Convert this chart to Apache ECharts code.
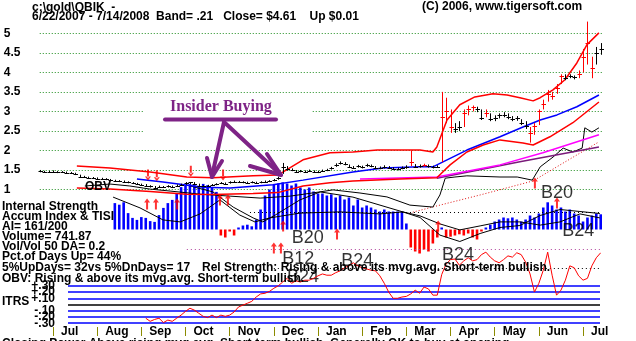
<!DOCTYPE html>
<html>
<head>
<meta charset="utf-8">
<script src="https://cdn.jsdelivr.net/npm/echarts@6/dist/echarts.min.js"></script>
<style>
  html, body { margin: 0; padding: 0; background: #fff; }
  #chart { width: 636px; height: 341px; }
</style>
</head>
<body>
<div id="chart"></div>
<script>
// ---- QBIK daily data, 6/22/2007 - 7/14/2008 (x measured in months from Jul 1 2007) ----
const MONTH_LABELS = ['Jul', 'Aug', 'Sep', 'Oct', 'Nov', 'Dec', 'Jan', 'Feb', 'Mar', 'Apr', 'May', 'Jun', 'Jul'];
const PRICE_TICKS = [1, 1.5, 2, 2.5, 3, 3.5, 4, 4.5, 5];
const ITRS_TICKS = [-0.3, -0.2, -0.1, 0, 0.1, 0.2, 0.3];
const ITRS_LABELS = ['-.30', '-.20', '-.10', '', '+.10', '+.20', '+.30'];

const FIRST_BAR = -0.3;   // first sample, in months
const BAR_STEP = 0.1;     // sample spacing, in months

const closes = [1.47,1.46,1.45,1.46,1.44,1.45,1.43,1.42,1.40,1.33,
  1.32,1.30,1.29,1.28,1.27,1.26,1.24,1.22,1.21,1.20,
  1.18,1.16,1.14,1.12,1.10,1.08,1.05,1.07,1.06,1.08,
  1.07,1.10,1.12,1.17,1.18,1.15,1.10,1.08,1.09,1.12,
  1.13,1.17,1.15,1.18,1.20,1.19,1.18,1.17,1.18,1.17,
  1.18,1.20,1.21,1.24,1.29,1.58,1.52,1.50,1.45,1.47,
  1.45,1.48,1.46,1.44,1.48,1.50,1.55,1.63,1.68,1.65,
  1.58,1.56,1.60,1.57,1.62,1.60,1.56,1.55,1.58,1.56,
  1.53,1.52,1.55,1.57,1.70,1.58,1.60,1.62,1.60,1.57,
  1.58,2.85,3.00,2.60,2.55,2.60,2.95,3.05,3.10,3.05,
  2.82,2.95,2.80,2.82,2.90,2.92,2.85,2.80,2.82,2.70,
  2.62,2.45,2.62,3.00,3.20,3.45,3.40,3.60,3.90,3.85,
  3.90,3.87,3.95,4.40,4.75,4.10,4.50,4.61];
const highs = [1.50,1.48,1.48,1.49,1.47,1.47,1.46,1.45,1.43,1.38,
  1.35,1.33,1.32,1.31,1.30,1.29,1.27,1.25,1.24,1.23,
  1.21,1.19,1.17,1.15,1.14,1.11,1.09,1.10,1.09,1.11,
  1.10,1.13,1.15,1.19,1.19,1.19,1.15,1.11,1.12,1.14,
  1.16,1.19,1.18,1.21,1.23,1.22,1.21,1.20,1.21,1.20,
  1.21,1.23,1.24,1.27,1.33,1.68,1.60,1.54,1.50,1.50,
  1.49,1.51,1.49,1.48,1.51,1.53,1.58,1.67,1.72,1.70,
  1.64,1.60,1.63,1.61,1.66,1.64,1.60,1.59,1.62,1.60,
  1.57,1.56,1.59,1.62,2.00,1.65,1.64,1.66,1.64,1.61,
  1.62,3.50,3.35,3.05,2.70,2.75,3.05,3.15,3.15,3.12,
  3.05,3.05,2.95,2.90,2.95,2.98,2.95,2.88,2.88,2.80,
  2.75,2.60,2.70,3.05,3.30,3.55,3.50,3.70,3.95,3.95,
  3.95,3.92,4.05,4.60,5.30,4.40,4.65,4.75];
const lows = [1.44,1.43,1.43,1.44,1.42,1.43,1.41,1.40,1.37,1.31,
  1.30,1.28,1.27,1.26,1.25,1.24,1.22,1.20,1.19,1.18,
  1.16,1.14,1.12,1.10,1.08,1.05,1.03,1.04,1.04,1.05,
  1.05,1.07,1.09,1.12,1.14,1.13,1.08,1.06,1.07,1.09,
  1.11,1.14,1.13,1.15,1.17,1.17,1.16,1.15,1.16,1.15,
  1.16,1.18,1.19,1.21,1.25,1.40,1.48,1.47,1.43,1.44,
  1.43,1.45,1.44,1.42,1.45,1.47,1.51,1.58,1.64,1.62,
  1.55,1.53,1.56,1.54,1.58,1.57,1.53,1.52,1.54,1.53,
  1.50,1.49,1.52,1.53,1.60,1.55,1.56,1.58,1.56,1.54,
  1.55,1.70,2.70,2.45,2.45,2.50,2.60,2.90,3.00,2.98,
  2.78,2.85,2.75,2.75,2.82,2.85,2.80,2.75,2.76,2.65,
  2.55,2.20,2.40,2.65,3.05,3.25,3.30,3.45,3.70,3.80,
  3.85,3.82,3.85,4.00,4.20,3.85,4.20,4.45];
// bars printed in red (strong up days)
const redBars = [84,87,91,92,93,96,97,98,101,111,112,113,114,115,116,117,118,122,123,124,125];

// Accumulation Index histogram, same sampling as the bars
const accumIndex = [null,null,null,null,null,null,null,null,null,null,
  null,null,null,null,null,null,null,0.66,0.62,0.68,
  0.41,0.29,0.24,0.31,0.29,0.21,0.19,0.36,0.54,0.66,
  0.74,0.91,1.06,1.11,1.14,1.11,1.09,1.14,1.11,1.06,
  0.94,-0.15,-0.20,-0.05,-0.15,0.05,0.10,0.12,0.08,0.25,
  0.50,0.85,1.00,1.12,1.15,1.18,1.15,1.10,1.15,1.05,
  1.00,1.05,0.95,0.90,0.90,0.85,0.88,0.80,0.85,0.75,
  0.80,0.60,0.75,0.55,0.60,0.55,0.50,0.45,0.50,0.45,
  0.45,0.45,0.45,0.15,-0.45,-0.55,-0.60,-0.50,-0.55,-0.35,
  -0.20,0.05,-0.20,-0.18,-0.15,-0.12,-0.15,-0.10,-0.20,-0.25,
  -0.05,0.05,0.12,0.20,0.25,0.30,0.28,0.30,0.25,0.20,
  0.25,0.35,0.30,0.40,0.55,0.68,0.60,0.50,0.55,0.45,
  0.50,0.40,0.35,0.20,0.30,0.35,0.40,0.38];

// Intermediate-term relative strength
const itrs = [null,null,null,null,null,null,null,null,null,null,
  null,null,null,null,null,null,null,null,null,null,
  null,null,null,null,-0.22,-0.27,-0.24,-0.22,-0.29,-0.25,
  -0.27,-0.22,-0.17,-0.11,-0.06,-0.09,-0.14,-0.19,-0.21,-0.17,
  -0.21,-0.17,-0.19,-0.17,-0.12,-0.04,-0.01,0.02,0.05,0.12,
  0.17,0.18,0.21,0.26,0.30,0.36,0.42,0.34,0.38,0.36,
  0.39,0.39,0.42,0.46,0.49,0.47,0.47,0.51,0.54,0.59,
  0.62,0.67,0.62,0.59,0.57,0.55,0.54,0.46,0.34,0.20,
  0.10,0.10,0.12,0.13,0.17,0.23,0.18,0.28,0.25,0.15,
  0.15,0.48,0.65,0.72,0.73,0.63,0.70,0.75,0.70,0.72,
  0.80,0.84,0.76,0.70,0.67,0.72,0.78,0.76,0.83,0.80,
  0.68,0.49,0.20,0.34,0.55,0.84,0.47,0.15,0.23,0.39,
  0.62,0.59,0.46,0.39,0.42,0.62,0.75,0.83];

// Overlay lines on the price panel: [month, value]
const upperBand = [[0.54,1.60],[1.29,1.55],[2.20,1.45],[3.03,1.32],[3.62,1.30],[4.53,1.35],[5.09,1.37],[5.66,1.76],[6.27,1.94],[6.79,1.96],[7.34,2.01],[8.31,2.01],[8.60,1.96],[8.69,2.09],[8.92,2.78],[9.21,3.17],[9.55,3.37],[9.96,3.45],[10.28,3.42],[10.57,3.35],[10.87,3.27],[11.03,3.35],[11.32,3.55],[11.59,3.81],[11.86,4.24],[12.09,4.71],[12.36,5.01]];
const lowerBand = [[0.54,1.04],[1.29,1.01],[2.20,0.95],[3.03,0.88],[3.62,0.87],[4.53,0.90],[5.09,0.92],[5.66,1.09],[6.27,1.17],[6.79,1.22],[7.86,1.27],[8.69,1.30],[8.99,1.63],[9.37,1.96],[9.74,2.14],[10.12,2.27],[10.64,2.19],[10.87,2.14],[11.25,2.35],[11.77,2.71],[12.36,3.24]];
const ma50 = [[1.90,1.27],[2.49,1.19],[3.40,1.06],[4.01,1.04],[4.98,1.12],[5.66,1.24],[6.79,1.45],[7.47,1.55],[8.31,1.58],[8.60,1.58],[9.37,2.01],[10.12,2.35],[10.64,2.60],[11.03,2.78],[11.41,2.91],[11.86,3.12],[12.36,3.42]];
const ma200 = [[6.95,1.27],[8.69,1.32],[10.12,1.63],[11.09,1.94],[12.36,2.40]];
const trendLine = [[8.69,1.29],[10.57,1.71],[12.36,2.09]];
const obvAvg = [[8.08,0.40],[8.76,0.60],[9.67,0.86],[10.87,1.22],[11.48,1.63],[12.36,2.22]];
const obv = [[0.72,1.09],[1.29,1.14],[1.74,1.09],[2.20,1.01],[2.65,0.96],[3.33,0.88],[4.01,0.83],[4.69,0.78],[5.37,0.83],[6.05,0.94],[6.34,0.99],[6.95,0.91],[7.56,0.81],[8.08,0.60],[8.60,0.55],[8.76,0.86],[8.88,1.29],[9.10,1.32],[9.37,1.35],[10.12,1.32],[10.51,1.32],[10.85,1.24],[11.03,1.58],[11.32,1.83],[11.55,2.06],[11.77,1.96],[11.98,2.06],[12.04,2.58],[12.20,2.47],[12.36,2.58]];

// Lines on the accumulation panel
const aiAverage = [[1.36,0.81],[1.97,0.54],[2.49,0.24],[2.88,0.19],[3.33,0.39],[3.78,0.74],[4.23,0.36],[4.57,0.19],[4.91,0.29],[5.59,0.41],[6.50,0.44],[7.40,0.39],[7.92,0.44],[8.31,0.34],[8.76,0.14],[9.21,-0.01],[9.67,0.09],[10.12,0.19],[10.57,0.19],[11.03,0.11],[11.48,0.19],[11.93,0.39],[12.38,0.29]];
const tisi = [[3.03,1.11],[3.62,0.94],[4.08,0.56],[4.53,0.29],[4.75,0.19],[5.03,0.36],[5.59,0.74],[6.05,0.94],[6.79,0.81],[7.92,0.44],[8.31,0.30],[8.76,-0.14],[9.21,-0.30],[9.67,-0.10],[10.12,0.05],[10.57,0.10],[11.03,0.35],[11.48,0.50],[11.93,0.45],[12.38,0.40]];

// Signals
const buyArrows = [[2.13,0.64],[2.33,0.64],[2.81,0.64],[3.78,0.74],[3.96,0.74],[5.21,0.09],[5.00,-0.46],[5.16,-0.46],[6.43,-0.11],[8.72,0.09],[11.41,0.66],[10.91,1.16]];
const sellArrows = [[2.15,1.37],[2.35,1.35],[3.12,1.47],[3.85,1.37]];
const signalNames = ['B20', 'B12', 'B24', 'B24', 'B24', 'B20', 'B24'];
const signalPos = [[5.77,-0.22],[5.55,-0.74],[5.66,-1.19],[6.89,-0.80],[9.17,-0.64],[11.41,0.91],[11.89,-0.04]];

// ---------------------------------------------------------------
const FONT = '"Liberation Sans", Arial, Helvetica, sans-serif';
const PLOT_LEFT = 39.75, PLOT_WIDTH = 562.28;
const X_MIN = -0.3, X_MAX = 12.43;
const ITRS_X_MIN = 0.3396, ITRS_X_MAX = 12.384;

const barDates = closes.map((_, i) => +(FIRST_BAR + i * BAR_STEP).toFixed(2));
const redSet = new Set(redBars);
const barData = closes.map((c, i) => [barDates[i], highs[i], lows[i], c, redSet.has(i) ? 1 : 0]);
const aiData = accumIndex.map((v, i) => v == null ? null : [barDates[i], v]).filter(Boolean);
const itrsData = itrs.map((v, i) => v == null ? null : [barDates[i], v]).filter(Boolean);

const chart = echarts.init(document.getElementById('chart'), null, { renderer: 'canvas', width: 636, height: 341 });

function hiddenX(gridIndex, min, max) {
  return { type: 'value', gridIndex, min, max, show: false };
}

const lineSeries = (data, color, width, type, extra) => Object.assign({
  type: 'line', xAxisIndex: 0, yAxisIndex: 0, data, symbol: 'none', clip: false,
  silent: true, animation: false,
  lineStyle: { color, width, type: type || 'solid' }, z: 3
}, extra || {});

const arrowUp = 'path://M2,3 L4,3 L4,11 L2,11 Z M0,4 L3,0 L6,4 Z';
const arrowDown = 'path://M2,0 L4,0 L4,8 L2,8 Z M0,7 L3,11 L6,7 Z';

const leftTexts = [
  ['Internal Strength', 200.5],
  ['Accum Index & TISI', 210.5],
  ['AI= 161/200', 220.5],
  ['Volume= 741.87', 230.5],
  ['Vol/Vol 50 DA= 0.2', 240.5],
  ['Pct.of Days Up= 44%', 251],
  ['5%UpDays= 32vs 5%DnDays= 17', 262],
  ['OBV: Rising & above its mvg.avg. Short-term bullish.', 272.5],
  ['ITRS', 296]
];

const purple = '#7e2386';

const graphics = [
  { type: 'text', x: 32, y: 1.5, style: { text: 'c:\\gold\\QBIK  -', font: 'bold 12px ' + FONT, fill: '#000', verticalAlign: 'top' } },
  { type: 'text', x: 32, y: 10.5, style: { text: '6/22/2007 - 7/14/2008  Band= .21   Close= $4.61    Up $0.01', font: 'bold 12px ' + FONT, fill: '#000', verticalAlign: 'top' } },
  { type: 'text', x: 422, y: 1, style: { text: '(C) 2006, www.tigersoft.com', font: 'bold 12px ' + FONT, fill: '#000', verticalAlign: 'top' } },
  { type: 'text', x: 85, y: 181, z: 20, style: { text: 'OBV', font: 'bold 12px ' + FONT, fill: '#000', verticalAlign: 'top' } },
  { type: 'text', x: 202, y: 262, z: 20, style: { text: 'Rel Strength: Rising & above its mvg.avg. Short-term bullish.', font: 'bold 12px ' + FONT, fill: '#000', verticalAlign: 'top' } },
  { type: 'text', x: 2, y: 337.5, z: 20, style: { text: 'Closing Power Above rising mvg.avg. Short-term bullish. Generally OK to buy at opening.', font: 'bold 12px ' + FONT, fill: '#000', verticalAlign: 'top' } },
  // clear box behind the annotation
  { type: 'rect', z: 40, shape: { x: 143, y: 96, width: 169, height: 46 }, style: { fill: '#fff' } },
  // "Insider Buying" annotation
  { type: 'text', x: 170, y: 99, z: 60, style: { text: 'Insider Buying', font: 'bold 16px "Liberation Serif", "Times New Roman", serif', fill: purple, verticalAlign: 'top' } },
  { type: 'line', z: 60, shape: { x1: 165, y1: 119.5, x2: 276, y2: 119.5 }, style: { stroke: purple, lineWidth: 4, lineCap: 'round' } },
  { type: 'line', z: 60, shape: { x1: 224, y1: 122, x2: 212, y2: 176 }, style: { stroke: purple, lineWidth: 4, lineCap: 'round' } },
  { type: 'line', z: 60, shape: { x1: 207, y1: 158, x2: 212, y2: 177 }, style: { stroke: purple, lineWidth: 4, lineCap: 'round' } },
  { type: 'line', z: 60, shape: { x1: 222, y1: 161, x2: 212, y2: 177 }, style: { stroke: purple, lineWidth: 4, lineCap: 'round' } },
  { type: 'line', z: 60, shape: { x1: 224, y1: 122, x2: 280, y2: 174 }, style: { stroke: purple, lineWidth: 4, lineCap: 'round' } },
  { type: 'line', z: 60, shape: { x1: 250, y1: 166, x2: 281, y2: 175 }, style: { stroke: purple, lineWidth: 4, lineCap: 'round' } },
  { type: 'line', z: 60, shape: { x1: 267, y1: 154, x2: 281, y2: 175 }, style: { stroke: purple, lineWidth: 4, lineCap: 'round' } }
].concat(leftTexts.map(([t, y]) => ({
  type: 'text', x: 2, y, z: 20, style: { text: t, font: 'bold 12px ' + FONT, fill: '#000', verticalAlign: 'top' }
})));

// ITRS reference lines (blue, zero line black) with their scale labels
const itrsLines = ITRS_TICKS.map((v, i) => [
  {
    coord: [ITRS_X_MIN, v],
    lineStyle: { color: v === 0 ? '#000000' : '#0000ff', width: 1.5, type: 'solid' },
    label: { show: true, position: 'start', distance: 13, formatter: ITRS_LABELS[i],
      fontFamily: FONT, fontWeight: 'bold', fontSize: 12, color: '#000' }
  },
  { coord: [ITRS_X_MAX, v] }
]);

const option = {
  animation: false,
  backgroundColor: '#fff',
  textStyle: { fontFamily: FONT },
  grid: [
    { left: PLOT_LEFT, width: PLOT_WIDTH, top: 33.3, height: 156.2 },   // price
    { left: PLOT_LEFT, width: PLOT_WIDTH, top: 169.5, height: 120 },    // accumulation index
    { left: 68, width: 532, top: 285.8, height: 37.4 },                 // ITRS
    { left: 53, width: 530, top: 326, height: 1 }                       // month axis
  ],
  xAxis: [
    hiddenX(0, X_MIN, X_MAX),
    hiddenX(1, X_MIN, X_MAX),
    hiddenX(2, ITRS_X_MIN, ITRS_X_MAX),
    {
      type: 'value', gridIndex: 3, min: 0, max: 12, interval: 1, position: 'bottom',
      axisLine: { show: false },
      axisTick: { show: true, length: 9, lineStyle: { color: '#8b8b00', width: 1 } },
      splitLine: { show: false },
      axisLabel: {
        margin: -1, align: 'left', padding: [0, 0, 0, 8], showMinLabel: true, showMaxLabel: true,
        fontFamily: FONT, fontWeight: 'bold', fontSize: 12, color: '#000',
        formatter: v => MONTH_LABELS[v] || ''
      }
    }
  ],
  yAxis: [
    {
      type: 'value', gridIndex: 0, min: PRICE_TICKS[0], max: PRICE_TICKS[PRICE_TICKS.length - 1], interval: 0.5,
      axisLine: { show: false }, axisTick: { show: false },
      axisLabel: { align: 'left', margin: 36, fontFamily: FONT, fontWeight: 'bold', fontSize: 12, color: '#000',
        showMinLabel: true, showMaxLabel: true,
        formatter: v => PRICE_TICKS.includes(v) ? String(v) : '' },
      splitLine: { show: true, lineStyle: { color: '#1e8c1e', type: [1, 2], width: 1 } }
    },
    { type: 'value', gridIndex: 1, min: -1.5, max: 1.5, show: false },
    { type: 'value', gridIndex: 2, min: ITRS_TICKS[0], max: ITRS_TICKS[ITRS_TICKS.length - 1], show: false },
    { type: 'value', gridIndex: 3, show: false, min: 0, max: 1 }
  ],
  series: [
    // accumulation histogram
    {
      type: 'bar', xAxisIndex: 1, yAxisIndex: 1, data: aiData, barWidth: 2.6, clip: false, silent: true, z: 1,
      itemStyle: { color: p => p.value[1] >= 0 ? '#0000ff' : '#ff0000' },
      markLine: {
        silent: true, symbol: 'none', label: { show: false }, animation: false,
        data: [
          [{ coord: [4.46, 0.44], lineStyle: { color: '#000', type: [1, 3], width: 1 } }, { coord: [12.38, 0.44] }],
          [{ coord: [3.03, -0.49], lineStyle: { color: '#b0409a', type: [1, 3], width: 1 } }, { coord: [12.38, -0.49] }],
          [{ coord: [5.0, -0.96], lineStyle: { color: '#000', type: [1, 3], width: 1 } }, { coord: [12.38, -0.96] }]
        ]
      }
    },
    { type: 'line', xAxisIndex: 1, yAxisIndex: 1, data: aiAverage, symbol: 'none', clip: false, silent: true, lineStyle: { color: '#000', width: 1 }, z: 3 },
    { type: 'line', xAxisIndex: 1, yAxisIndex: 1, data: tisi, symbol: 'none', clip: false, silent: true, lineStyle: { color: '#000', width: 1 }, z: 3 },

    // price overlays
    lineSeries(obvAvg, '#e01010', 1, [1, 2]),
    lineSeries(obv, '#000', 1),
    lineSeries(trendLine, '#7a1a7a', 1.5),
    lineSeries(ma200, '#ff00ff', 1.5),
    lineSeries(ma50, '#0000ff', 1.5),
    lineSeries(upperBand, '#ff0000', 1.5),
    lineSeries(lowerBand, '#ff0000', 1.5),

    // daily high-low-close bars
    {
      type: 'custom', xAxisIndex: 0, yAxisIndex: 0, data: barData, clip: false, silent: true, z: 5,
      renderItem: (params, api) => {
        const x = api.value(0);
        const top = api.coord([x, api.value(1)]);
        const bot = api.coord([x, api.value(2)]);
        const cl = api.coord([x, api.value(3)]);
        const color = api.value(4) ? '#ff0000' : '#000000';
        const px = Math.round(top[0]) + 0.5;
        return {
          type: 'group',
          children: [
            { type: 'line', shape: { x1: px, y1: top[1], x2: px, y2: bot[1] }, style: { stroke: color, lineWidth: 1 } },
            { type: 'line', shape: { x1: px - 2, y1: Math.round(cl[1]) + 0.5, x2: px + 2.5, y2: Math.round(cl[1]) + 0.5 }, style: { stroke: color, lineWidth: 1 } }
          ]
        };
      }
    },

    // signal arrows
    {
      type: 'scatter', xAxisIndex: 1, yAxisIndex: 1, data: buyArrows, symbol: arrowUp, symbolSize: [6, 11],
      itemStyle: { color: '#ff0000' }, clip: false, silent: true, z: 8
    },
    {
      type: 'scatter', xAxisIndex: 0, yAxisIndex: 0, data: sellArrows, symbol: arrowDown, symbolSize: [6, 11],
      itemStyle: { color: '#ff0000' }, clip: false, silent: true, z: 8
    },
    {
      type: 'scatter', xAxisIndex: 1, yAxisIndex: 1, symbolSize: 0, clip: false, silent: true, z: 9,
      data: signalPos.map((p, i) => ({ value: p, name: signalNames[i] })),
      label: { show: true, position: 'inside', formatter: p => p.name, fontFamily: FONT, fontSize: 18, color: '#000' }
    },

    // ITRS
    {
      type: 'line', xAxisIndex: 2, yAxisIndex: 2, data: itrsData, symbol: 'none', clip: false, silent: true, z: 10,
      lineStyle: { color: '#ff0000', width: 1 },
      markLine: { silent: true, symbol: 'none', animation: false, data: itrsLines, z: 4 }
    },
    // month axis carrier
    { type: 'line', xAxisIndex: 3, yAxisIndex: 3, data: [], silent: true }
  ],
  graphic: graphics
};

chart.setOption(option);
</script>
</body>
</html>
